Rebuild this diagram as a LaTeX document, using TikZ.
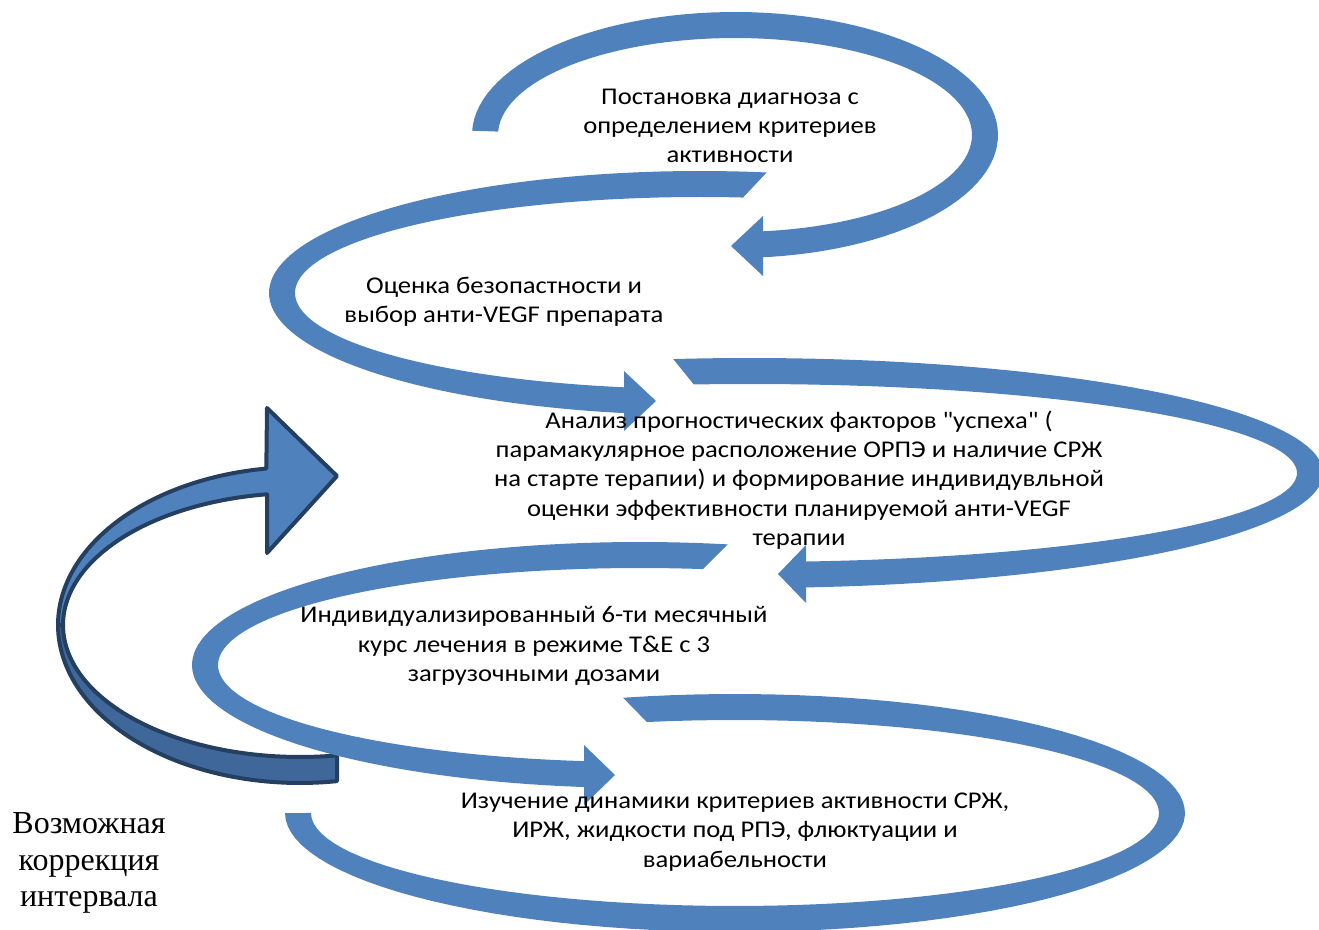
\documentclass[tikz,border=0pt]{standalone}
\usepackage{fontspec}
\setmainfont{Carlito}
\newfontfamily\stagefont{Carlito}[FakeStretch=1.11, Ligatures=TeXOff]
\newfontfamily\notefont{Liberation Serif}
\usepackage{tikz}
\usetikzlibrary{positioning, calc}
\definecolor{bandblue}{HTML}{4F81BD}
\definecolor{edgenavy}{HTML}{243F60}
\definecolor{shadeblue}{HTML}{3F679A}
\tikzstyle{band}=[fill=bandblue]
\tikzstyle{backarrow}=[fill=bandblue, draw=edgenavy, line width=2pt, line join=round]
\tikzstyle{backshade}=[fill=shadeblue, draw=edgenavy, line width=2pt, line join=round]
\tikzstyle{stagetext}=[align=center, inner sep=0pt, font=\stagefont\fontsize{12}{14.65}\selectfont]
\tikzstyle{notetext}=[align=center, inner sep=0pt, font=\notefont\fontsize{16}{18.4}\selectfont]

% лента по дуге эллипса: центр, полуоси, начало (внешн./внутр.), конец
\newcommand{\loopband}[7]{%
  \fill[band] plot[domain=#5:#7, samples=90] ({#1+(#3+13)*cos(\x)}, {#2+(#4+13)*sin(\x)})
    -- plot[domain=#7:#6, samples=90] ({#1+(#3-13)*cos(\x)}, {#2+(#4-13)*sin(\x)}) -- cycle;}

\begin{document}
\begin{tikzpicture}[x=0.5pt, y=-0.5pt]
    \useasboundingbox (0,0) rectangle (1319,930);

    % обратная стрелка (коррекция интервала)
    \draw[backshade] plot[domain=180:81.2, samples=60] ({300+242*cos(\x)}, {625+158*sin(\x)})
      -- plot[domain=81:180, samples=60] ({300+237*cos(\x)}, {625+132*sin(\x)}) -- cycle;
    \draw[backarrow] plot[domain=180:262, samples=60] ({300+242*cos(\x)}, {625+158*sin(\x)})
      -- (267,408) -- (337,476) -- (267,553)
      -- plot[domain=262:180, samples=60] ({300+237*cos(\x)}, {625+132*sin(\x)}) -- cycle;

    % 1: постановка диагноза
    \loopband{735}{135}{250}{110}{182}{182}{445}
    \fill[band] (763,216) -- (731,246) -- (763,276) -- cycle;

    % 2: оценка безопасности
    \loopband{700}{293}{418}{109}{278.9}{276.1}{99}
    \fill[band] (624,371) -- (656,401) -- (624,431) -- cycle;

    % 3: анализ факторов
    \loopband{750}{473}{560}{102}{262.3}{264.1}{445}
    \fill[band] (806,545) -- (778,574) -- (806,603) -- cycle;

    % 4: курс лечения
    \loopband{640}{665}{435}{110}{281.3}{278.6}{96}
    \fill[band] (584,745) -- (615,775) -- (584,805) -- cycle;

    % 5: изучение динамики
    \loopband{735}{813}{437}{106}{255.6}{258}{540}

    % подписи
    \node[stagetext] (diag) at (730,126) {Постановка диагноза с\\определением критериев\\активности};
    \node[stagetext] (safety) at (504,302) {Оценка безопастности и\\выбор анти-VEGF препарата};
    \node[stagetext] (prognosis) at (799,480) {Анализ прогностических факторов "успеха" (\\парамакулярное расположение ОРПЭ и наличие СРЖ\\на старте терапии) и формирование индивидувльной\\оценки эффективности планируемой анти-VEGF\\терапии};
    \node[stagetext] (course) at (534,646) {Индивидуализированный 6-ти месячный\\курс лечения в режиме T\&E с 3\\загрузочными дозами};
    \node[stagetext] (dynamics) at (735,832) {Изучение динамики критериев активности СРЖ,\\ИРЖ, жидкости под РПЭ, флюктуации и\\вариабельности};
    \node[notetext] (correction) at (89,863) {Возможная\\коррекция\\интервала};
\end{tikzpicture}
\end{document}
